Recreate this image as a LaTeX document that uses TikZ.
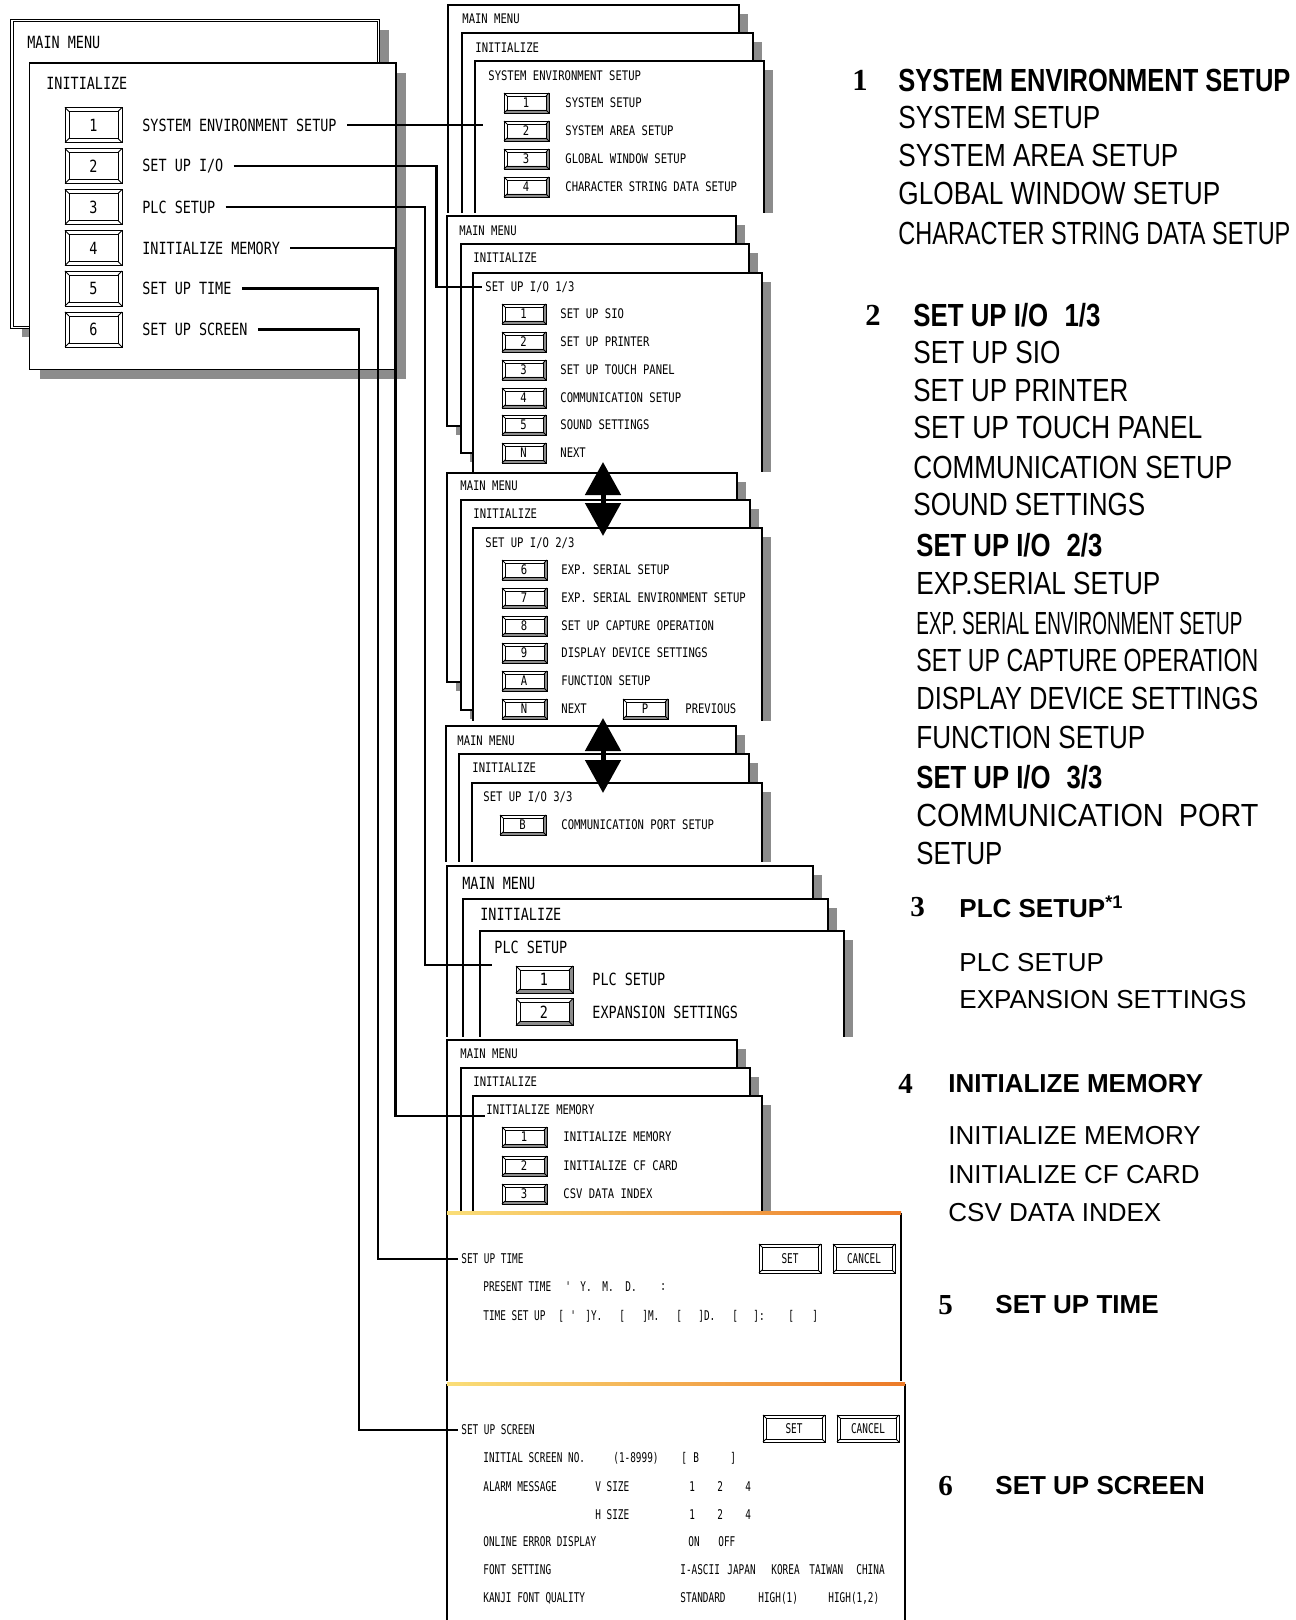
\documentclass[tikz,border=0pt]{standalone}
\usepackage{fontspec}
\usepackage{graphicx}
\usetikzlibrary{arrows.meta}
\newfontfamily\lcdfont[FakeStretch=0.8]{DejaVu Sans Mono}
\newfontfamily\dlgfont[FakeStretch=0.7]{DejaVu Sans Mono}
\newfontfamily\capfont{Liberation Sans}
\newfontfamily\numfont{Liberation Serif}
\definecolor{shadowgray}{gray}{0.55}
\definecolor{barleft}{RGB}{250,222,120}
\definecolor{barright}{RGB}{236,122,40}
\newdimen\pxu \pxu=0.5pt
% squeeze a text line to a width given in pixels
\newcommand{\fitw}[2]{\resizebox{#1\pxu}{\height}{#2}}
% window with drop shadow: [offset]{x1}{y1}{x2}{y2}
\newcommand{\panel}[5][9]{%
  \fill[shadowgray] (#2+#1,#3+#1) rectangle (#4+#1,#5+#1);
  \draw[panelline, fill=white] (#2,#3) rectangle (#4,#5);}
% bevelled key: {x1}{y1}{x2}{y2}{bevel}{bevel colour}
\newcommand{\keycap}[6]{%
  \fill[white] (#1,#2) rectangle (#3,#4);
  \fill[#6] (#3,#2) -- (#3,#4) -- (#1,#4) -- (#1+#5,#4-#5) -- (#3-#5,#4-#5) -- (#3-#5,#2+#5) -- cycle;
  \draw[keyline] (#1,#2) rectangle (#3,#4) (#1+#5,#2+#5) rectangle (#3-#5,#4-#5);
  \draw[keyline] (#1,#2) -- (#1+#5,#2+#5) (#3,#2) -- (#3-#5,#2+#5)
    (#1,#4) -- (#1+#5,#4-#5) (#3,#4) -- (#3-#5,#4-#5);}
\begin{document}
\begin{tikzpicture}[x=0.5pt, y=-0.5pt,
  panelline/.style={line width=0.6pt},
  keyline/.style={line width=0.45pt},
  link/.style={line width=1.25pt, shorten <=5pt},
  totitle/.style={shorten >=1.5pt},
  updown/.style={line width=2.5pt, arrows={Triangle[length=16.5pt,width=17.5pt]-Triangle[length=16.5pt,width=17.5pt]}},
  mtext/.style={anchor=west, inner sep=0pt, font=\lcdfont\fontsize{8.4}{10}\selectfont},
  stext/.style={anchor=west, inner sep=0pt, font=\lcdfont\fontsize{6.6}{8}\selectfont},
  dtext/.style={anchor=west, inner sep=0pt, font=\dlgfont\fontsize{6.7}{8}\selectfont},
  rnum/.style={anchor=west, inner sep=0pt, font=\numfont\bfseries\fontsize{15.3}{18}\selectfont},
  rnumb/.style={anchor=west, inner sep=0pt, font=\numfont\bfseries\fontsize{14.5}{17}\selectfont},
  rhead/.style={anchor=west, inner sep=0pt, font=\capfont\bfseries\fontsize{16}{19}\selectfont},
  rtext/.style={anchor=west, inner sep=0pt, font=\capfont\fontsize{16}{19}\selectfont},
  shead/.style={anchor=west, inner sep=0pt, font=\capfont\bfseries\fontsize{13}{15}\selectfont},
  sline/.style={anchor=west, inner sep=0pt, font=\capfont\fontsize{13}{15}\selectfont}]
  \useasboundingbox (0,0) rectangle (1295,1620);

  % main menu
  \fill[shadowgray] (22,30.5) rectangle (388.5,337.5);
  \draw[line width=0.5pt, double, double distance=0.8pt, fill=white] (12,20.5) rectangle (378.5,327.5);
  \node[mtext] (mmenu) at (27,43) {MAIN MENU};
  \fill[shadowgray] (39.5,73) rectangle (406,379.5);
  \draw[line width=0.75pt, fill=white] (29.5,63) rectangle (396,369.5);
  \node[mtext] (minit) at (46,83) {INITIALIZE};
  \foreach \k/\cy/\lbl in {1/125/SYSTEM ENVIRONMENT SETUP, 2/166/{SET UP I/O}, 3/207/PLC SETUP,
      4/248/INITIALIZE MEMORY, 5/288.5/SET UP TIME, 6/329.5/SET UP SCREEN} {
    \keycap{65}{\cy-17.5}{122}{\cy+17.5}{4}{white}
    \node[mtext, anchor=center] (mk\k) at (93.5,\cy) {\k};
    \node[mtext] (m\k) at (142,\cy) {\lbl};
  }

  % system environment setup
  \begin{scope}
    \clip (441,0) rectangle (780,213);
    \panel{448}{5}{739}{215}
    \panel{462}{33}{753}{243}
    \panel{475}{61}{764}{420}
    \node[stext] (a1) at (462,19) {MAIN MENU};
    \node[stext] (a2) at (475,48) {INITIALIZE};
    \node[stext] (t1) at (488,76) {SYSTEM ENVIRONMENT SETUP};
    \foreach \k/\cy/\lbl in {1/103/SYSTEM SETUP, 2/131/SYSTEM AREA SETUP, 3/159/GLOBAL WINDOW SETUP,
        4/187/CHARACTER STRING DATA SETUP} {
      \keycap{504}{\cy-10}{549}{\cy+10}{3}{shadowgray}
      \node[stext, anchor=center] (ak\k) at (526,\cy) {\k};
      \node[stext] (al\k) at (565,\cy) {\lbl};
    }
  \end{scope}

  % set up i/o 1/3
  \begin{scope}
    \clip (441,213) rectangle (780,471);
    \panel{447}{216}{736}{426}
    \panel{461}{244}{749}{453}
    \panel{473}{273}{762}{700}
    \node[stext] (b1) at (459,231) {MAIN MENU};
    \node[stext] (b2) at (473,258) {INITIALIZE};
    \node[stext] (t2) at (485,287) {SET UP I/O 1/3};
    \foreach \k/\cy/\lbl in {1/314/SET UP SIO, 2/342/SET UP PRINTER, 3/370/SET UP TOUCH PANEL,
        4/398/COMMUNICATION SETUP, 5/425/SOUND SETTINGS, N/453/NEXT} {
      \keycap{502}{\cy-10}{546}{\cy+10}{3}{shadowgray}
      \node[stext, anchor=center] (bk\k) at (523.5,\cy) {\k};
      \node[stext] (bl\k) at (560,\cy) {\lbl};
    }
  \end{scope}

  % set up i/o 2/3
  \begin{scope}
    \clip (441,471) rectangle (780,720);
    \panel{447}{473}{737}{682}
    \panel{461}{500}{750}{710}
    \panel{473}{528}{762}{900}
    \node[stext] (c1) at (460,486) {MAIN MENU};
    \node[stext] (c2) at (473,514) {INITIALIZE};
    \node[stext] (c3) at (485,543) {SET UP I/O 2/3};
    \foreach \k/\cy/\lbl in {6/570/EXP. SERIAL SETUP, 7/598/EXP. SERIAL ENVIRONMENT SETUP,
        8/626/SET UP CAPTURE OPERATION, 9/653/DISPLAY DEVICE SETTINGS, A/681/FUNCTION SETUP, N/709/NEXT} {
      \keycap{502}{\cy-10}{547}{\cy+10}{3}{shadowgray}
      \node[stext, anchor=center] (ck\k) at (524,\cy) {\k};
      \node[stext] (cl\k) at (561,\cy) {\lbl};
    }
    \keycap{623}{699}{668}{719}{3}{shadowgray}
    \node[stext, anchor=center] (ckP) at (645,709) {P};
    \node[stext] (clP) at (685,709) {PREVIOUS};
  \end{scope}

  % set up i/o 3/3
  \begin{scope}
    \clip (441,720) rectangle (780,861);
    \panel{446}{726}{736}{936}
    \panel{459}{754}{749}{964}
    \panel{472}{783}{762}{1000}
    \node[stext] (d1) at (457,741) {MAIN MENU};
    \node[stext] (d2) at (472,768) {INITIALIZE};
    \node[stext] (d3) at (483,797) {SET UP I/O 3/3};
    \keycap{500}{815}{546}{835}{3}{shadowgray}
    \node[stext, anchor=center] (dkB) at (522.5,825) {B};
    \node[stext] (dlB) at (561,825) {COMMUNICATION PORT SETUP};
  \end{scope}

  % plc setup
  \begin{scope}
    \clip (441,863) rectangle (860,1036);
    \panel{447}{866}{813}{1100}
    \panel{463}{899}{828}{1100}
    \panel{480}{931}{844}{1100}
    \node[mtext] (e1) at (462,883) {MAIN MENU};
    \node[mtext] (e2) at (480,914) {INITIALIZE};
    \node[mtext] (t3) at (494,947) {PLC SETUP};
    \foreach \k/\cy/\lbl in {1/979.5/PLC SETUP, 2/1012/EXPANSION SETTINGS} {
      \keycap{516}{\cy-13.5}{573}{\cy+13.5}{4}{shadowgray}
      \node[mtext, anchor=center] (ek\k) at (544,\cy) {\k};
      \node[mtext] (el\k) at (592,\cy) {\lbl};
    }
  \end{scope}

  % initialize memory
  \begin{scope}
    \clip (441,1037) rectangle (780,1212);
    \panel{447}{1040}{737}{1250}
    \panel{461}{1068}{750}{1277}
    \panel{473}{1096}{762}{1400}
    \node[stext] (f1) at (460,1054) {MAIN MENU};
    \node[stext] (f2) at (473,1082) {INITIALIZE};
    \node[stext] (t4) at (486,1110) {INITIALIZE MEMORY};
    \foreach \k/\cy/\lbl in {1/1137/INITIALIZE MEMORY, 2/1166/INITIALIZE CF CARD, 3/1194/CSV DATA INDEX} {
      \keycap{502}{\cy-10}{547}{\cy+10}{3}{shadowgray}
      \node[stext, anchor=center] (fk\k) at (524,\cy) {\k};
      \node[stext] (fl\k) at (563,\cy) {\lbl};
    }
  \end{scope}

  % set up time
  \fill[white] (447,1213) rectangle (901,1381);
  \draw[line width=1.1pt] (447,1381) -- (447,1213) (901,1213) -- (901,1381);
  \shade[left color=barleft, right color=barright] (447,1211.5) rectangle (901,1214.5);
  \node[dtext] (t5) at (461,1259) {SET UP TIME};
  \keycap{759}{1244}{821}{1273}{3}{white}
  \node[dtext, anchor=center] (gset) at (790,1258.5) {SET};
  \keycap{833}{1244}{895}{1273}{3}{white}
  \node[dtext, anchor=center] (gcan) at (864,1258.5) {CANCEL};
  \node[dtext] (gnow) at (483,1287) {PRESENT TIME};
  \foreach \px/\tx in {565/', 580/Y., 602/M., 625/D., 660/:}
    \node[dtext] at (\px,1287) {\tx};
  \node[dtext] (gnew) at (483,1316) {TIME SET UP};
  \foreach \px/\tx in {558/[, 570/', 585/]Y., 619/[, 642/]M., 676/[, 698/]D., 732/[, 753/]:, 788/[, 812/]}
    \node[dtext] at (\px,1316) {\tx};

  % set up screen
  \fill[white] (447,1384) rectangle (905,1625);
  \draw[line width=1.1pt] (447,1625) -- (447,1384) (905,1384) -- (905,1625);
  \shade[left color=barleft, right color=barright] (447,1382.5) rectangle (905,1385.5);
  \node[dtext] (t6) at (461,1430) {SET UP SCREEN};
  \keycap{763}{1415}{825}{1442}{3}{white}
  \node[dtext, anchor=center] (hset) at (794,1428.5) {SET};
  \keycap{837}{1415}{899}{1442}{3}{white}
  \node[dtext, anchor=center] (hcan) at (868,1428.5) {CANCEL};
  \foreach \ry/\tx in {1458/INITIAL SCREEN NO., 1487/ALARM MESSAGE, 1542/ONLINE ERROR DISPLAY,
      1570/FONT SETTING, 1598/KANJI FONT QUALITY}
    \node[dtext] at (483,\ry) {\tx};
  \foreach \px/\tx in {613/(1-8999), 681/[, 693/B, 730/]}
    \node[dtext] at (\px,1458) {\tx};
  \foreach \ry in {1487,1515}
    \foreach \px/\tx in {689/1, 717/2, 745/4}
      \node[dtext] at (\px,\ry) {\tx};
  \node[dtext] (hv) at (595,1487) {V SIZE};
  \node[dtext] (hh) at (595,1515) {H SIZE};
  \foreach \px/\tx in {688/ON, 718/OFF}
    \node[dtext] at (\px,1542) {\tx};
  \foreach \px/\tx in {680/I-ASCII, 727/JAPAN, 771/KOREA, 809/TAIWAN, 856/CHINA}
    \node[dtext] at (\px,1570) {\tx};
  \foreach \px/\tx in {680/STANDARD, 758/HIGH(1), 828/{HIGH(1,2)}}
    \node[dtext] at (\px,1598) {\tx};

  % page arrows
  \coordinate (nx1) at (603,462);
  \coordinate (pv1) at (603,536);
  \coordinate (nx2) at (603,718);
  \coordinate (pv2) at (603,793);
  \draw[updown] (nx1) -- (pv1);
  \draw[updown] (nx2) -- (pv2);

  % connectors
  \coordinate (x1) at (483,125);
  \coordinate (k2) at (436.5,0);
  \coordinate (k3) at (425,0);
  \coordinate (x3) at (492,965);
  \coordinate (k4) at (395.5,0);
  \coordinate (x4) at (485,1116);
  \coordinate (k5) at (378,0);
  \coordinate (k6) at (359,0);
  \draw[link] (m1.east) -- (m1.east -| x1);
  \draw[link, totitle] (m2.east) -- (m2.east -| k2) -- (k2 |- t2.west) -- (t2.west);
  \draw[link] (m3.east) -- (m3.east -| k3) -- (k3 |- x3) -- (x3);
  \draw[link] (m4.east) -- (m4.east -| k4) -- (k4 |- x4) -- (x4);
  \draw[link, totitle] (m5.east) -- (m5.east -| k5) -- (k5 |- t5.west) -- (t5.west);
  \draw[link, totitle] (m6.east) -- (m6.east -| k6) -- (k6 |- t6.west) -- (t6.west);

  % legend
  \node[rnum] (n1) at (852,80) {1};
  \node[rhead] (h1) at (898,80) {\fitw{392}{SYSTEM ENVIRONMENT SETUP}};
  \foreach \i/\ry/\rw/\rt in {1/117/202/SYSTEM SETUP, 2/155/280/SYSTEM AREA SETUP,
      3/193/322/GLOBAL WINDOW SETUP, 4/233/392/CHARACTER STRING DATA SETUP}
    \node[rtext] (r1\i) at (898,\ry) {\fitw{\rw}{\rt}};

  \node[rnum] (n2) at (865,315) {2};
  \node[rhead] (h2) at (913,315) {\fitw{187}{SET UP I/O\hspace{0.35em} 1/3}};
  \foreach \i/\ry/\rw/\rt in {1/352/147/SET UP SIO, 2/390/215/SET UP PRINTER, 3/427/289/SET UP TOUCH PANEL,
      4/467/319/COMMUNICATION SETUP, 5/504/232/SOUND SETTINGS}
    \node[rtext] (r2\i) at (913,\ry) {\fitw{\rw}{\rt}};
  \node[rhead] (h2b) at (916,545) {\fitw{186}{SET UP I/O\hspace{0.35em} 2/3}};
  \foreach \i/\ry/\rw/\rt in {6/583/244/EXP.SERIAL SETUP, 7/623/326/EXP. SERIAL ENVIRONMENT SETUP,
      8/660/342/SET UP CAPTURE OPERATION, 9/698/342/DISPLAY DEVICE SETTINGS, A/737/229/FUNCTION SETUP}
    \node[rtext] (r2\i) at (916,\ry) {\fitw{\rw}{\rt}};
  \node[rhead] (h2c) at (916,777) {\fitw{186}{SET UP I/O\hspace{0.35em} 3/3}};
  \node[rtext] (r2B) at (916,815) {\fitw{342}{COMMUNICATION\hspace{0.25em} PORT}};
  \node[rtext] (r2C) at (916,853) {\fitw{86}{SETUP}};

  \node[rnumb] (n3) at (910,907) {3};
  \node[shead] (h3) at (959,907) {PLC SETUP\textsuperscript{*1}};
  \node[sline] (r31) at (959,963) {PLC SETUP};
  \node[sline] (r32) at (959,1000) {EXPANSION SETTINGS};

  \node[rnumb] (n4) at (898,1084) {4};
  \node[shead] (h4) at (948,1084) {INITIALIZE MEMORY};
  \node[sline] (r41) at (948,1136) {INITIALIZE MEMORY};
  \node[sline] (r42) at (948,1175) {INITIALIZE CF CARD};
  \node[sline] (r43) at (948,1213) {CSV DATA INDEX};

  \node[rnumb] (n5) at (938,1305) {5};
  \node[shead] (h5) at (995,1305) {SET UP TIME};

  \node[rnumb] (n6) at (938,1486) {6};
  \node[shead] (h6) at (995,1486) {SET UP SCREEN};
\end{tikzpicture}
\end{document}
